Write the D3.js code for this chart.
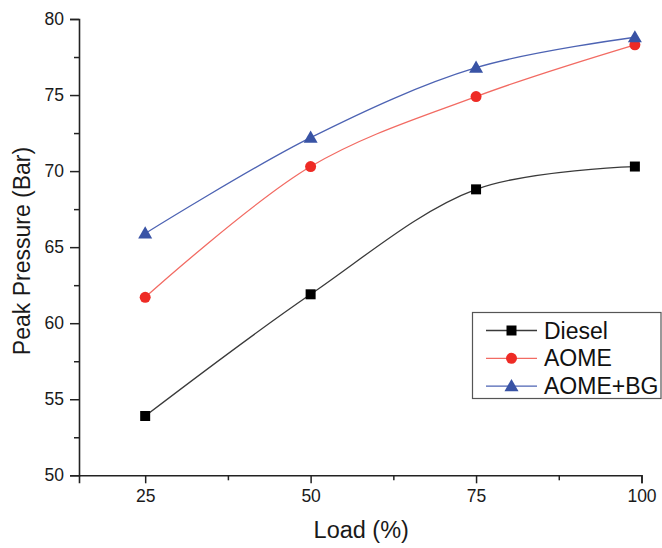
<!DOCTYPE html>
<html>
<head>
<meta charset="utf-8">
<script src="https://cdn.jsdelivr.net/npm/d3@7/dist/d3.min.js"></script>
<style>
  body { margin: 0; background: #fff; }
  svg { display: block; font-family: Arial, "Liberation Sans", sans-serif; }
</style>
</head>
<body>
<svg id="chart" width="662" height="548"></svg>
<script>
const loads = [25, 50, 75, 99];
const diesel = [53.9, 61.9, 68.8, 70.3];
const aome = [61.7, 70.3, 74.9, 78.3];
const aomeBG = [65.9, 72.2, 76.8, 78.8];
const seriesNames = ["Diesel", "AOME", "AOME+BG"];
const xTicks = [25, 50, 75, 100];
const yTicks = [50, 55, 60, 65, 70, 75, 80];

(function () {
const series = [
  { name: seriesNames[0], values: diesel, line: "#3a3a3a", fill: "#000000", symbol: d3.symbolSquare, size: 100 },
  { name: seriesNames[1], values: aome, line: "#f26b63", fill: "#ee2b25", symbol: d3.symbolCircle, size: 95 },
  { name: seriesNames[2], values: aomeBG, line: "#4d63b3", fill: "#3953a5", symbol: d3.symbolTriangle, size: 85 }
];

const svg = d3.select("#chart");
const mLeft = 79, mRight = 641.5, mTop = 19, mBottom = 475.3;

const x = d3.scaleLinear().domain([15, 100]).range([mLeft, mRight]);
const y = d3.scaleLinear().domain([50, 80]).range([mBottom, mTop]);

const g = svg.append("g");
const axisColor = "#222";

const xAxis = g.append("g").attr("transform", `translate(0,${mBottom})`)
  .call(d3.axisBottom(x).tickValues(xTicks).tickSize(8).tickPadding(6).tickFormat(d3.format("d")));
const xMinor = g.append("g").attr("transform", `translate(0,${mBottom})`)
  .call(d3.axisBottom(x).tickValues([37.5, 62.5, 87.5]).tickSize(5).tickFormat(""));
const yAxis = g.append("g").attr("transform", `translate(${mLeft},0)`)
  .call(d3.axisLeft(y).tickValues(yTicks).tickSize(9).tickPadding(6).tickFormat(d3.format("d")));
const yMinor = g.append("g").attr("transform", `translate(${mLeft},0)`)
  .call(d3.axisLeft(y).tickValues([52.5, 57.5, 62.5, 67.5, 72.5, 77.5]).tickSize(5).tickFormat(""));

[xAxis, xMinor, yAxis, yMinor].forEach(a => {
  a.select(".domain").attr("stroke", axisColor).attr("stroke-width", 1.6);
  a.selectAll(".tick line").attr("stroke", axisColor).attr("stroke-width", 1.5);
  a.selectAll("text").attr("fill", "#1a1a1a").style("font-size", "17.5px").style("font-family", "Arial, 'Liberation Sans', sans-serif");
});
xMinor.select(".domain").remove();
yMinor.select(".domain").remove();

const line = d3.line()
  .x((d, i) => x(loads[i]))
  .y(d => y(d))
  .curve(d3.curveCatmullRom.alpha(0.5));

series.forEach(s => {
  svg.append("path")
    .datum(s.values)
    .attr("d", line)
    .attr("fill", "none")
    .attr("stroke", s.line)
    .attr("stroke-width", 1.3);
});

series.forEach(s => {
  svg.append("g").selectAll("path")
    .data(s.values)
    .join("path")
    .attr("transform", (d, i) => `translate(${x(loads[i])},${y(d) + (s.symbol === d3.symbolTriangle ? 1 : 0)})`)
    .attr("d", d3.symbol().type(s.symbol).size(s.size))
    .attr("fill", s.fill);
});

svg.append("text")
  .attr("x", (mLeft + mRight) / 2 + 1)
  .attr("y", 538)
  .attr("text-anchor", "middle")
  .style("font-size", "23.5px")
  .attr("fill", "#1a1a1a")
  .text("Load (%)");

svg.append("text")
  .attr("transform", `translate(30,251) rotate(-90)`)
  .attr("text-anchor", "middle")
  .style("font-size", "23px")
  .attr("fill", "#1a1a1a")
  .text("Peak Pressure (Bar)");

const legend = svg.append("g");
legend.append("rect")
  .attr("x", 472.5).attr("y", 312.5)
  .attr("width", 188.5).attr("height", 86)
  .attr("fill", "#fff")
  .attr("stroke", "#555")
  .attr("stroke-width", 1.2);

series.forEach((s, i) => {
  const ly = 330.5 + i * 27.8;
  legend.append("line")
    .attr("x1", 486).attr("x2", 537)
    .attr("y1", ly).attr("y2", ly)
    .attr("stroke", s.line).attr("stroke-width", 1.3);
  legend.append("path")
    .attr("transform", `translate(511.5,${ly + (s.symbol === d3.symbolTriangle ? 1 : 0)})`)
    .attr("d", d3.symbol().type(s.symbol).size(s.size))
    .attr("fill", s.fill);
  legend.append("text")
    .attr("x", 544)
    .attr("y", ly + 8)
    .style("font-size", "23px")
    .attr("fill", "#111")
    .text(s.name);
});
})();
</script>
</body>
</html>
